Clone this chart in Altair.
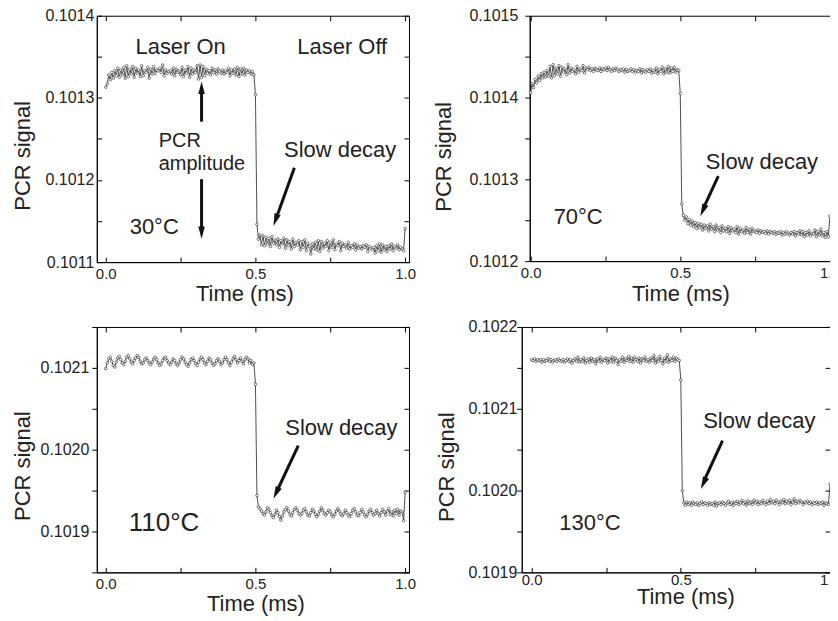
import altair as alt
import pandas as pd

# ---------------- data ----------------
TIME = [
    0.000, 0.005, 0.010, 0.015, 0.020, 0.025, 0.030, 0.035, 0.040, 0.045,
    0.050, 0.055, 0.060, 0.065, 0.070, 0.075, 0.080, 0.085, 0.090, 0.095,
    0.100, 0.105, 0.110, 0.115, 0.120, 0.125, 0.130, 0.135, 0.140, 0.145,
    0.150, 0.155, 0.160, 0.165, 0.170, 0.175, 0.180, 0.185, 0.190, 0.195,
    0.200, 0.205, 0.210, 0.215, 0.220, 0.225, 0.230, 0.235, 0.240, 0.245,
    0.250, 0.255, 0.260, 0.265, 0.270, 0.275, 0.280, 0.285, 0.290, 0.295,
    0.300, 0.305, 0.310, 0.315, 0.320, 0.325, 0.330, 0.335, 0.340, 0.345,
    0.350, 0.355, 0.360, 0.365, 0.370, 0.375, 0.380, 0.385, 0.390, 0.395,
    0.400, 0.405, 0.410, 0.415, 0.420, 0.425, 0.430, 0.435, 0.440, 0.445,
    0.450, 0.455, 0.460, 0.465, 0.470, 0.475, 0.480, 0.485, 0.490, 0.495,
    0.500, 0.505, 0.510, 0.515, 0.520, 0.525, 0.530, 0.535, 0.540, 0.545,
    0.550, 0.555, 0.560, 0.565, 0.570, 0.575, 0.580, 0.585, 0.590, 0.595,
    0.600, 0.605, 0.610, 0.615, 0.620, 0.625, 0.630, 0.635, 0.640, 0.645,
    0.650, 0.655, 0.660, 0.665, 0.670, 0.675, 0.680, 0.685, 0.690, 0.695,
    0.700, 0.705, 0.710, 0.715, 0.720, 0.725, 0.730, 0.735, 0.740, 0.745,
    0.750, 0.755, 0.760, 0.765, 0.770, 0.775, 0.780, 0.785, 0.790, 0.795,
    0.800, 0.805, 0.810, 0.815, 0.820, 0.825, 0.830, 0.835, 0.840, 0.845,
    0.850, 0.855, 0.860, 0.865, 0.870, 0.875, 0.880, 0.885, 0.890, 0.895,
    0.900, 0.905, 0.910, 0.915, 0.920, 0.925, 0.930, 0.935, 0.940, 0.945,
    0.950, 0.955, 0.960, 0.965, 0.970, 0.975, 0.980, 0.985, 0.990, 0.995,
    1.000,
]

SIG_30C = [
    0.101313, 0.101317, 0.101328, 0.101322, 0.101331, 0.101324, 0.101333, 0.101327, 0.101336, 0.101325,
    0.101334, 0.101328, 0.101337, 0.101324, 0.101339, 0.101326, 0.101335, 0.101329, 0.101338, 0.101325,
    0.101336, 0.101330, 0.101334, 0.101326, 0.101339, 0.101327, 0.101333, 0.101331, 0.101337, 0.101324,
    0.101335, 0.101329, 0.101338, 0.101330, 0.101334, 0.101333, 0.101336, 0.101331, 0.101340, 0.101327,
    0.101334, 0.101330, 0.101332, 0.101333, 0.101329, 0.101336, 0.101327, 0.101335, 0.101331, 0.101333,
    0.101328, 0.101337, 0.101326, 0.101334, 0.101330, 0.101338, 0.101325, 0.101336, 0.101329, 0.101334,
    0.101331, 0.101339, 0.101323, 0.101340, 0.101325, 0.101338, 0.101327, 0.101335, 0.101330, 0.101333,
    0.101328, 0.101336, 0.101331, 0.101334, 0.101329, 0.101335, 0.101332, 0.101330, 0.101334, 0.101329,
    0.101333, 0.101331, 0.101336, 0.101327, 0.101334, 0.101330, 0.101335, 0.101328, 0.101337, 0.101326,
    0.101335, 0.101329, 0.101336, 0.101328, 0.101334, 0.101331, 0.101333, 0.101329, 0.101332, 0.101328,
    0.101304,
    0.101146, 0.101128, 0.101133, 0.101121, 0.101132, 0.101120, 0.101130, 0.101122, 0.101129, 0.101119,
    0.101131, 0.101123, 0.101127, 0.101121, 0.101128, 0.101118, 0.101126, 0.101122, 0.101129, 0.101117,
    0.101127, 0.101120, 0.101125, 0.101116, 0.101128, 0.101119, 0.101124, 0.101121, 0.101126, 0.101115,
    0.101125, 0.101118, 0.101127, 0.101114, 0.101123, 0.101119, 0.101110, 0.101122, 0.101116, 0.101124,
    0.101115, 0.101126, 0.101113, 0.101125, 0.101117, 0.101123, 0.101119, 0.101126, 0.101114, 0.101124,
    0.101118, 0.101127, 0.101115, 0.101122, 0.101120, 0.101125, 0.101114, 0.101123, 0.101119, 0.101121,
    0.101117, 0.101124, 0.101116, 0.101120, 0.101118, 0.101122, 0.101115, 0.101121, 0.101117, 0.101119,
    0.101116, 0.101120, 0.101118, 0.101121, 0.101113, 0.101119, 0.101117, 0.101115, 0.101118, 0.101111,
    0.101120, 0.101114, 0.101122, 0.101112, 0.101121, 0.101115, 0.101119, 0.101113, 0.101120, 0.101116,
    0.101122, 0.101114, 0.101119, 0.101117, 0.101121, 0.101115, 0.101118, 0.101116, 0.101114,
    0.101141,
]

SIG_70C = [
    0.101406, 0.101417, 0.101412, 0.101422, 0.101418, 0.101426, 0.101421, 0.101429, 0.101424, 0.101431,
    0.101425, 0.101433, 0.101426, 0.101438, 0.101424, 0.101440, 0.101427, 0.101436, 0.101429, 0.101439,
    0.101426, 0.101437, 0.101431, 0.101435, 0.101428, 0.101440, 0.101430, 0.101436, 0.101432, 0.101434,
    0.101429, 0.101438, 0.101431, 0.101435, 0.101433, 0.101439, 0.101430, 0.101436, 0.101434, 0.101437,
    0.101433, 0.101435, 0.101432, 0.101436, 0.101434, 0.101433, 0.101436, 0.101432, 0.101435, 0.101434,
    0.101436, 0.101433, 0.101437, 0.101434, 0.101432, 0.101435, 0.101433, 0.101436, 0.101434, 0.101432,
    0.101434, 0.101433, 0.101435, 0.101431, 0.101434, 0.101432, 0.101433, 0.101435, 0.101432, 0.101434,
    0.101431, 0.101433, 0.101432, 0.101435, 0.101430, 0.101434, 0.101432, 0.101431, 0.101434, 0.101432,
    0.101435, 0.101430, 0.101433, 0.101431, 0.101436, 0.101429, 0.101434, 0.101432, 0.101437, 0.101429,
    0.101435, 0.101431, 0.101438, 0.101430, 0.101436, 0.101432, 0.101437, 0.101431, 0.101434, 0.101433,
    0.101405,
    0.101270, 0.101256, 0.101250, 0.101254, 0.101246, 0.101251, 0.101244, 0.101249, 0.101242, 0.101247,
    0.101240, 0.101246, 0.101241, 0.101245, 0.101238, 0.101244, 0.101240, 0.101243, 0.101237, 0.101245,
    0.101239, 0.101242, 0.101236, 0.101244, 0.101238, 0.101241, 0.101235, 0.101243, 0.101237, 0.101240,
    0.101236, 0.101242, 0.101234, 0.101241, 0.101237, 0.101239, 0.101235, 0.101242, 0.101233, 0.101240,
    0.101236, 0.101238, 0.101234, 0.101241, 0.101235, 0.101239, 0.101233, 0.101240, 0.101236, 0.101237,
    0.101235, 0.101238, 0.101234, 0.101237, 0.101235, 0.101236, 0.101234, 0.101237, 0.101233, 0.101236,
    0.101235, 0.101234, 0.101236, 0.101233, 0.101235, 0.101234, 0.101236, 0.101232, 0.101235, 0.101233,
    0.101236, 0.101234, 0.101232, 0.101235, 0.101233, 0.101236, 0.101231, 0.101235, 0.101233, 0.101237,
    0.101232, 0.101236, 0.101230, 0.101235, 0.101232, 0.101237, 0.101231, 0.101234, 0.101233, 0.101238,
    0.101230, 0.101236, 0.101232, 0.101239, 0.101231, 0.101235, 0.101229, 0.101236, 0.101230,
    0.101255,
]

SIG_110C = [
    0.102099, 0.102106, 0.102111, 0.102113, 0.102108, 0.102103, 0.102101, 0.102107, 0.102112, 0.102114,
    0.102110, 0.102106, 0.102104, 0.102108, 0.102113, 0.102115, 0.102111, 0.102107, 0.102105, 0.102109,
    0.102112, 0.102115, 0.102113, 0.102108, 0.102105, 0.102106, 0.102110, 0.102112, 0.102109, 0.102106,
    0.102104, 0.102107, 0.102111, 0.102113, 0.102110, 0.102106, 0.102103, 0.102105, 0.102109, 0.102112,
    0.102113, 0.102109, 0.102106, 0.102104, 0.102107, 0.102111, 0.102109, 0.102105, 0.102103, 0.102106,
    0.102110, 0.102113, 0.102111, 0.102107, 0.102104, 0.102102, 0.102106, 0.102110, 0.102112, 0.102109,
    0.102105, 0.102103, 0.102107, 0.102111, 0.102113, 0.102110, 0.102106, 0.102104, 0.102108, 0.102112,
    0.102110, 0.102106, 0.102103, 0.102105, 0.102109, 0.102111, 0.102108, 0.102104, 0.102106, 0.102110,
    0.102113, 0.102110, 0.102106, 0.102103, 0.102107, 0.102111, 0.102114, 0.102110, 0.102106, 0.102109,
    0.102112, 0.102108, 0.102105, 0.102110, 0.102113, 0.102111, 0.102106, 0.102109, 0.102104, 0.102106,
    0.102080,
    0.101944, 0.101930, 0.101928, 0.101925, 0.101922, 0.101920, 0.101924, 0.101929, 0.101927, 0.101923,
    0.101919, 0.101917, 0.101921, 0.101926, 0.101923, 0.101918, 0.101914, 0.101919, 0.101924, 0.101927,
    0.101929, 0.101925, 0.101921, 0.101919, 0.101923, 0.101927, 0.101929, 0.101926, 0.101922, 0.101920,
    0.101922, 0.101926, 0.101928, 0.101924, 0.101920, 0.101919, 0.101923, 0.101927, 0.101925, 0.101921,
    0.101918, 0.101921, 0.101925, 0.101929, 0.101926, 0.101922, 0.101920, 0.101923, 0.101926, 0.101924,
    0.101920, 0.101918, 0.101921, 0.101925, 0.101928, 0.101925, 0.101921, 0.101919, 0.101922, 0.101926,
    0.101923, 0.101920, 0.101918, 0.101922, 0.101926, 0.101928, 0.101924, 0.101920, 0.101919, 0.101923,
    0.101927, 0.101924, 0.101920, 0.101918, 0.101921, 0.101925, 0.101927, 0.101923, 0.101920, 0.101922,
    0.101926, 0.101922, 0.101919, 0.101923, 0.101927, 0.101924, 0.101920, 0.101925, 0.101928, 0.101921,
    0.101924, 0.101919, 0.101926, 0.101922, 0.101927, 0.101920, 0.101925, 0.101924, 0.101913,
    0.101948,
]

SIG_130C = [
    0.102160, 0.102159, 0.102161, 0.102158, 0.102160, 0.102159, 0.102160, 0.102157, 0.102160, 0.102158,
    0.102159, 0.102161, 0.102158, 0.102160, 0.102157, 0.102159, 0.102160, 0.102158, 0.102161, 0.102159,
    0.102158, 0.102160, 0.102157, 0.102159, 0.102161, 0.102158, 0.102160, 0.102156, 0.102159, 0.102161,
    0.102158, 0.102163, 0.102157, 0.102160, 0.102158, 0.102162, 0.102156, 0.102159, 0.102161, 0.102157,
    0.102162, 0.102158, 0.102160, 0.102155, 0.102161, 0.102158, 0.102163, 0.102157, 0.102160, 0.102159,
    0.102162, 0.102156, 0.102161, 0.102158, 0.102163, 0.102157, 0.102162, 0.102159, 0.102154, 0.102160,
    0.102158, 0.102163, 0.102157, 0.102161, 0.102159, 0.102164, 0.102158, 0.102162, 0.102157, 0.102163,
    0.102160, 0.102158, 0.102162, 0.102156, 0.102161, 0.102159, 0.102163, 0.102158, 0.102160, 0.102157,
    0.102162, 0.102159, 0.102165, 0.102156, 0.102161, 0.102158, 0.102164, 0.102159, 0.102155, 0.102162,
    0.102158, 0.102166, 0.102157, 0.102161, 0.102159, 0.102163, 0.102158, 0.102162, 0.102160, 0.102159,
    0.102135,
    0.102000, 0.101985, 0.101982, 0.101986, 0.101983, 0.101985, 0.101982, 0.101986, 0.101984, 0.101983,
    0.101985, 0.101982, 0.101984, 0.101986, 0.101983, 0.101985, 0.101984, 0.101982, 0.101985, 0.101983,
    0.101984, 0.101982, 0.101986, 0.101981, 0.101984, 0.101985, 0.101983, 0.101986, 0.101984, 0.101982,
    0.101985, 0.101987, 0.101983, 0.101985, 0.101982, 0.101986, 0.101984, 0.101987, 0.101983, 0.101985,
    0.101988, 0.101984, 0.101986, 0.101982, 0.101987, 0.101984, 0.101986, 0.101983, 0.101988, 0.101985,
    0.101987, 0.101983, 0.101986, 0.101984, 0.101988, 0.101985, 0.101983, 0.101987, 0.101984, 0.101989,
    0.101985, 0.101987, 0.101984, 0.101988, 0.101986, 0.101983, 0.101987, 0.101985, 0.101989, 0.101984,
    0.101987, 0.101985, 0.101988, 0.101983, 0.101986, 0.101990, 0.101984, 0.101987, 0.101985, 0.101988,
    0.101986, 0.101983, 0.101986, 0.101985, 0.101987, 0.101984, 0.101986, 0.101983, 0.101985, 0.101984,
    0.101986, 0.101983, 0.101985, 0.101984, 0.101986, 0.101982, 0.101985, 0.101984, 0.101983,
    0.102008,
]

for _s in (SIG_30C, SIG_70C, SIG_110C, SIG_130C):
    assert len(_s) == len(TIME), len(_s)

XTICKS = [0.0, 0.25, 0.5, 0.75, 1.0]
YTICKS_30C = [0.1011, 0.10115, 0.1012, 0.10125, 0.1013, 0.10135, 0.1014]
YTICKS_70C = [0.1012, 0.10125, 0.1013, 0.10135, 0.1014, 0.10145, 0.1015]
YTICKS_110C = [0.10185, 0.1019, 0.10195, 0.1020, 0.10205, 0.1021, 0.10215]
YTICKS_130C = [0.1019, 0.10195, 0.1020, 0.10205, 0.1021, 0.10215, 0.1022]

# annotations: (text, time, signal, font size, align)
TEXT_30C = [("Laser On", 0.25, 0.101362, 22, "center"),
            ("Laser Off", 0.79, 0.101362, 22, "center"),
            ("PCR", 0.177, 0.101247, 20, "left"),
            ("amplitude", 0.177, 0.101219, 20, "left"),
            ("Slow decay", 0.783, 0.101237, 22, "center"),
            ("30°C", 0.08, 0.101143, 22, "left")]
TEXT_70C = [("Slow decay", 0.773, 0.101321, 22, "center"),
            ("70°C", 0.077, 0.101254, 22, "left")]
TEXT_110C = [("Slow decay", 0.787, 0.102027, 22, "center"),
             ("110°C", 0.077, 0.101910, 26, "left")]
TEXT_130C = [("Slow decay", 0.763, 0.102085, 22, "center"),
             ("130°C", 0.093, 0.101960, 22, "left")]

# arrows: (t start, v start, t line end, v line end, t tip, v tip, head angle)
ARROWS_30C = [(0.32, 0.101271, 0.32, 0.101312, 0.32, 0.101320, 0),
              (0.32, 0.101201, 0.32, 0.101137, 0.32, 0.101128, 180),
              (0.63, 0.101215, 0.57, 0.101154, 0.56, 0.101144, 199.6)]
ARROWS_70C = [(0.627, 0.101304, 0.578, 0.101265, 0.567, 0.101255, 204)]
ARROWS_110C = [(0.643, 0.102005, 0.574, 0.101951, 0.56, 0.101940, 205)]
ARROWS_130C = [(0.64, 0.102061, 0.578, 0.102012, 0.567, 0.102002, 205)]

# ---------------- styling ----------------
FONT = "Liberation Sans"
INK = "#222222"
HEAD = "M0,0L0.6,2.3L-0.6,2.3Z"
XLAB = "round(datum.value * 4) % 2 == 0 ? format(datum.value, '.1f') : ''"
YLAB = "round(datum.value * 100000) % 2 == 0 ? format(datum.value, '.4f') : ''"


def panel(sig, yticks, texts, arrows, xdom, ydom, w, h, yts, ylp, xlp,
          ytx, yty, xtx, xty, left_in):
    xs = alt.Scale(domain=xdom, nice=False, zero=False)
    ys = alt.Scale(domain=ydom, nice=False, zero=False)
    df = pd.DataFrame({"t": TIME, "v": sig})
    base = alt.Chart(df)

    x_main = alt.Axis(values=XTICKS, labelExpr=XLAB, tickSize=0, labelPadding=xlp,
                      labelFlush=False, labelOverlap=False, domain=True, labelFontSize=15,
                      title="Time (ms)", titleX=xtx, titleY=xty,
                      titleBaseline="middle", titleAlign="center")
    y_main = alt.Axis(values=yticks, labelExpr=YLAB, tickSize=yts, labelPadding=ylp,
                      labelFlush=False, labelOverlap=False, domain=True, labelFontSize=16,
                      title="PCR signal", titleX=ytx, titleY=yty, titleAngle=270,
                      titleBaseline="middle", titleAlign="center")

    line = base.mark_line(color=INK, strokeWidth=0.8).encode(
        x=alt.X("t:Q", scale=xs, axis=x_main),
        y=alt.Y("v:Q", scale=ys, axis=y_main))
    pts = base.mark_point(shape="circle", filled=True, fill="white", stroke=INK,
                          strokeWidth=0.6, size=7, opacity=1).encode(
        x=alt.X("t:Q", scale=xs, axis=None),
        y=alt.Y("v:Q", scale=ys, axis=None))

    dummy = alt.Chart(pd.DataFrame({"t": [0.5], "v": [sum(ydom) / 2]}))

    def inward(orient, vals):
        return alt.Axis(orient=orient, values=vals, labels=False, domain=False,
                        ticks=True, tickSize=5, offset=-5, title="", minExtent=0)

    tick_b = dummy.mark_point(opacity=0).encode(
        x=alt.X("t:Q", scale=xs, axis=inward("bottom", XTICKS)),
        y=alt.Y("v:Q", scale=ys, axis=inward("right", yticks)))
    tick_t = dummy.mark_point(opacity=0).encode(
        x=alt.X("t:Q", scale=xs, axis=inward("top", XTICKS)),
        y=alt.Y("v:Q", scale=ys, axis=inward("left", yticks) if left_in else None))

    layers = [line, pts, tick_b, tick_t]

    for (txt, tt, vv, fs, al) in texts:
        tdf = pd.DataFrame({"label": [txt], "t": [tt], "v": [vv]})
        layers.append(alt.Chart(tdf).mark_text(font=FONT, fontSize=fs, color=INK,
                                               align=al, baseline="middle").encode(
            x=alt.X("t:Q", scale=xs, axis=None),
            y=alt.Y("v:Q", scale=ys, axis=None),
            text="label:N"))

    adf = pd.DataFrame(arrows, columns=["t0", "v0", "t1", "v1", "tt", "vt", "ang"])
    layers.append(alt.Chart(adf).mark_rule(color="#111111", strokeWidth=3).encode(
        x=alt.X("t0:Q", scale=xs, axis=None),
        y=alt.Y("v0:Q", scale=ys, axis=None),
        x2="t1:Q", y2="v1:Q"))
    layers.append(alt.Chart(adf).mark_point(shape=HEAD, filled=True, color="#111111",
                                            size=120, opacity=1, strokeWidth=0).encode(
        x=alt.X("tt:Q", scale=xs, axis=None),
        y=alt.Y("vt:Q", scale=ys, axis=None),
        angle=alt.Angle("ang:Q", scale=None)))

    return alt.layer(*layers).resolve_axis(x="independent", y="independent").properties(
        width=w, height=h)


p1 = panel(SIG_30C, YTICKS_30C, TEXT_30C, ARROWS_30C, [-0.03, 1.013], [0.1011, 0.1014],
           313, 247, 0, 3, 4, -74, 140, 148, 31, True)
p2 = panel(SIG_70C, YTICKS_70C, TEXT_70C, ARROWS_70C, [-0.003, 1.027], [0.1012, 0.1015],
           309, 246, 5, 7, 4, -86, 141, 151, 32, False)
p3 = panel(SIG_110C, YTICKS_110C, TEXT_110C, ARROWS_110C, [-0.03, 1.013], [0.10185, 0.10215],
           313, 246, 5, 3, 4, -74, 139, 159, 31, False)
p4 = panel(SIG_130C, YTICKS_130C, TEXT_130C, ARROWS_130C, [-0.033, 1.0], [0.1019, 0.1022],
           309, 246, 5, 0, 0, -75, 140, 164, 24, False)

row1 = alt.hconcat(p1, p2, spacing=15)
row2 = alt.hconcat(p3, p4, spacing=18)

chart = alt.vconcat(row1, row2, spacing=13).properties(
    padding={"left": 3, "top": -2, "right": -11, "bottom": 0},
    background="white",
).configure_view(stroke="black", strokeWidth=1).configure_axis(
    domainColor="black", tickColor="black", labelColor=INK, titleColor=INK,
    labelFont=FONT, titleFont=FONT, labelFontSize=15, titleFontSize=22,
    titleFontWeight="normal", grid=False, minExtent=0, domainWidth=1, tickWidth=1,
)

chart.save("out.html", embed_options={"renderer": "svg", "actions": False})
